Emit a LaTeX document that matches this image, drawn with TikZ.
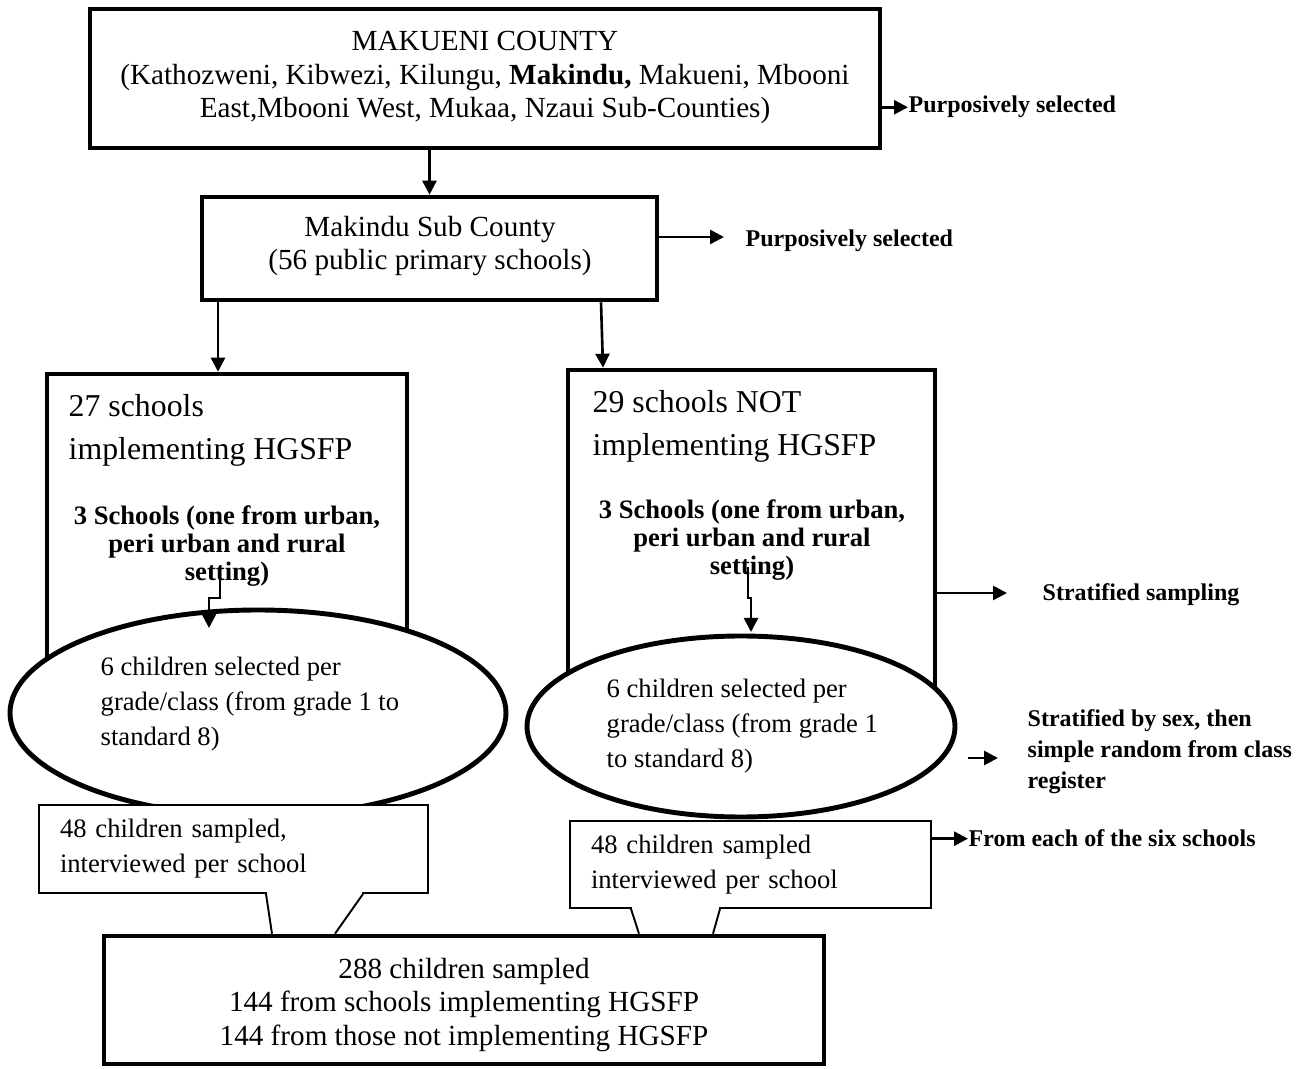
\documentclass[tikz,border=0pt]{standalone}
\usepackage{fontspec}
\setmainfont{Liberation Serif}
\usetikzlibrary{arrows.meta,shapes.geometric}

\newcommand\fbody{\fontsize{8.3}{9.5}\selectfont}
\newcommand\fbig{\fontsize{9.05}{12.2}\selectfont}
\newcommand\fsmall{\fontsize{7.57}{9.96}\selectfont}
\newcommand\finner{\fontsize{7.57}{8.1}\selectfont\bfseries}
\newcommand\flabel{\fontsize{6.83}{8.8}\selectfont\bfseries}

\tikzset{
  >={Triangle[length=1.4mm,width=1.4mm]},
  thickbox/.style={draw,line width=1.3pt,fill=white,inner sep=0pt},
  thinbox/.style={draw,line width=0.55pt,fill=white,inner xsep=0.21cm,inner ysep=0pt,align=left,font=\fsmall},
  oval/.style={ellipse,draw,line width=1.4pt,fill=white,inner sep=0pt},
  txt/.style={inner sep=0pt},
  side/.style={inner sep=0pt,anchor=base west,font=\flabel},
  link/.style={line width=0.75pt},
  pointer/.style={line width=0.55pt}
}

\begin{document}
\begin{tikzpicture}
\useasboundingbox (0,0) rectangle (13.02,-10.69);

% county and sub county
\node[thickbox,minimum width=7.9cm,minimum height=1.39cm] (county) at (4.85,-0.785) {};
\node[txt,align=center,font=\fbody] (countytxt) at (4.85,-0.775) {MAKUENI COUNTY\\(Kathozweni, Kibwezi, Kilungu, \textbf{Makindu,} Makueni, Mbooni\\East,Mbooni West, Mukaa, Nzaui Sub-Counties)};

\node[thickbox,minimum width=4.55cm,minimum height=1.03cm] (makindu) at (4.295,-2.485) {};
\node[txt,align=center,font=\fbody] (makindutxt) at (4.30,-2.46) {Makindu Sub County\\(56 public primary schools)};

% school groups
\node[thickbox,minimum width=3.6cm,minimum height=3.26cm] (impl) at (2.27,-5.37) {};
\node[txt,anchor=north west,align=left,font=\fbig] (impltxt) at (0.68,-3.94) {27 schools\\implementing HGSFP};
\node[txt,anchor=north,align=center,font=\finner] (implsub) at (2.27,-5.046) {3 Schools (one from urban,\\peri urban and rural\\setting)};

\node[thickbox,minimum width=3.67cm,minimum height=3.5cm] (nimpl) at (7.515,-5.45) {};
\node[txt,anchor=north west,align=left,font=\fbig] (nimpltxt) at (5.92,-3.90) {29 schools NOT\\implementing HGSFP};
\node[txt,anchor=north,align=center,font=\finner] (nimplsub) at (7.52,-4.986) {3 Schools (one from urban,\\peri urban and rural\\setting)};

% children per grade
\node[oval,minimum width=4.96cm,minimum height=2.06cm] (lsel) at (2.58,-7.13) {};
\node[txt,anchor=north west,align=left,font=\fsmall] (lseltxt) at (1.00,-6.568) {6 children selected per\\grade/class (from grade 1 to\\standard 8)};

\node[oval,minimum width=4.28cm,minimum height=1.81cm] (rsel) at (7.41,-7.265) {};
\node[txt,anchor=north west,align=left,font=\fsmall] (rseltxt) at (6.06,-6.788) {6 children selected per\\grade/class (from grade 1\\to standard 8)};

\coordinate (lset) at (2.20,-5.67);
\coordinate (rset) at (7.48,-5.67);
\draw[link,->] (lset) -- ++(0,-0.31) -- ++(-0.11,0) -- ++(0,-0.30);
\draw[link,->] (rset) -- ++(0,-0.31) -- ++(0.03,0) -- ++(0,-0.34);

% callouts and total
\node[thinbox,text width=3.47cm,minimum height=0.88cm] (lcall) at (2.335,-8.49) {48 children sampled,\\interviewed per school};
\node[thinbox,text width=3.19cm,minimum height=0.87cm] (rcall) at (7.505,-8.645) {48 children sampled\\interviewed per school};

\node[thickbox,minimum width=7.2cm,minimum height=1.28cm] (total) at (4.64,-10.0) {};

\fill[white] (2.67,-8.90) rectangle (3.62,-8.96);
\fill[white] (6.32,-9.05) rectangle (7.19,-9.11);
\draw[pointer] (lcall.south -| 2.66,0) -- (total.north -| 2.72,0);
\draw[pointer] (lcall.south -| 3.63,0) -- (total.north -| 3.35,0);
\draw[pointer] (rcall.south -| 6.31,0) -- (total.north -| 6.39,0);
\draw[pointer] (rcall.south -| 7.20,0) -- (total.north -| 7.13,0);

\node[txt,align=center,font=\fbody] (totaltxt) at (4.64,-10.05) {288 children sampled\\144 from schools implementing HGSFP\\144 from those not implementing HGSFP};

% side notes
\node[side] (sel1) at (9.08,-1.13) {Purposively selected};
\node[side] (sel2) at (7.45,-2.47) {Purposively selected};
\node[side] (strat) at (10.42,-6.01) {Stratified sampling};
\node[side,anchor=north west,align=left] (sexlbl) at (10.27,-7.088) {Stratified by sex, then\\simple random from class\\register};
\node[side] (each) at (9.68,-8.47) {From each of the six schools};

\coordinate (t2) at (7.24,-2.37);
\coordinate (t3) at (10.07,-5.93);
\coordinate (s4) at (9.68,-7.58);
\coordinate (t4) at (9.98,-7.58);

\draw[link,->] (county.south -| makindu.north) -- (makindu.north);
\draw[link,->] (county.east |- sel1.west) -- (sel1.west);
\draw[link,->] (makindu.east |- t2) -- (t2);
\draw[link,->] (makindu.south -| 2.18,0) -- (impl.north -| 2.18,0);
\draw[link,->] (makindu.south -| 6.01,0) -- (nimpl.north -| 6.03,0);
\draw[link,->] (nimpl.east |- t3) -- (t3);
\draw[link,->] (s4) -- (t4);
\draw[link,->] (rcall.east |- each.west) -- (each.west);

\end{tikzpicture}
\end{document}
